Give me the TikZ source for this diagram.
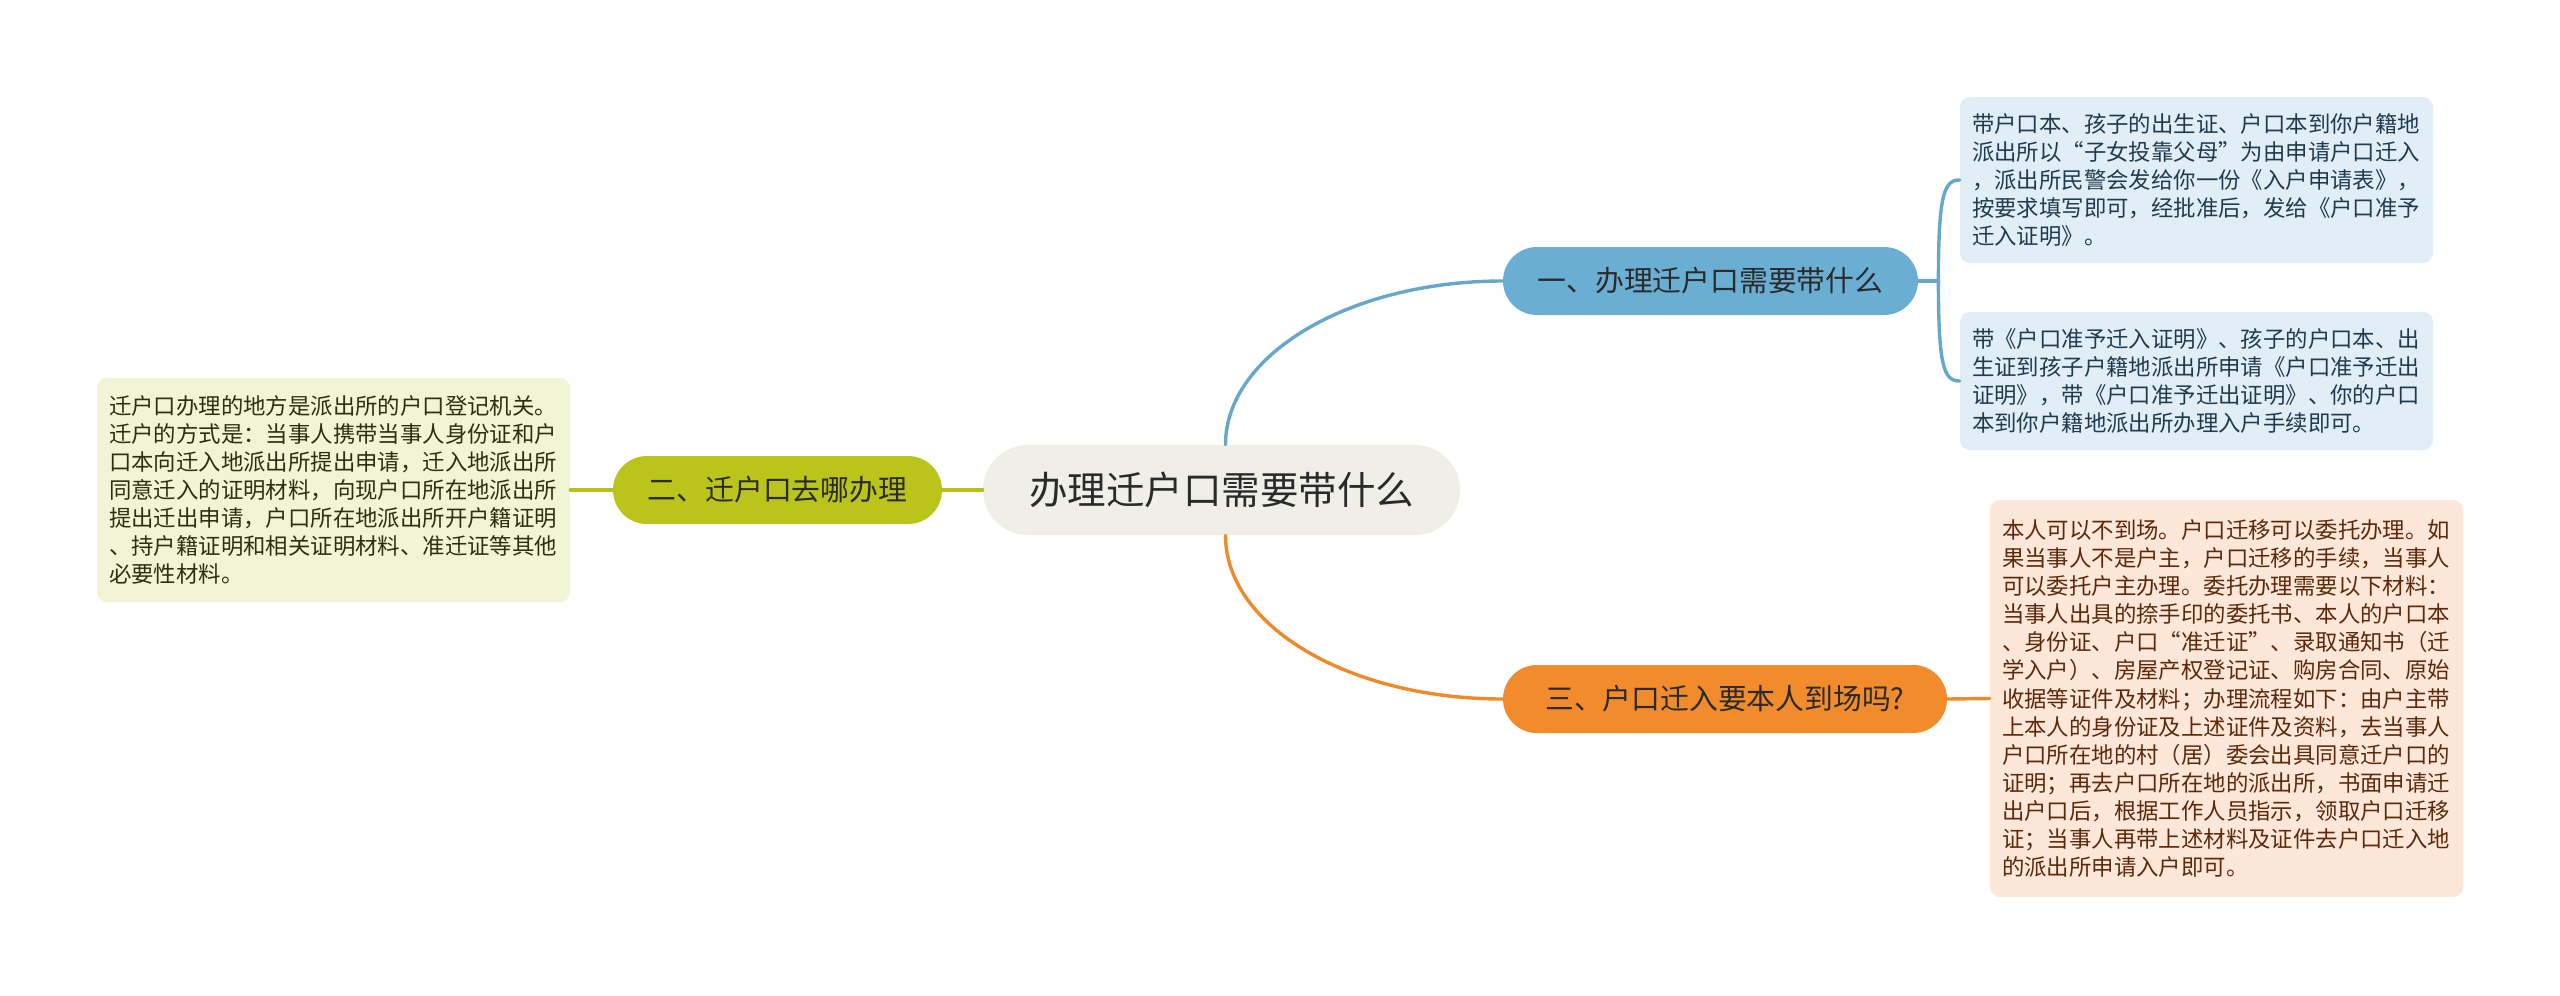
\documentclass[tikz,border=0pt]{standalone}
\usepackage{fontspec}
\setmainfont{Noto Sans CJK SC}
\definecolor{rootfill}{HTML}{EFEFE8}
\definecolor{bluefill}{HTML}{6AAFD3}
\definecolor{blueline}{HTML}{67A8CA}
\definecolor{blueleaf}{HTML}{E2EEF6}
\definecolor{bluetext}{HTML}{1E3B4F}
\definecolor{greenfill}{HTML}{BAC41A}
\definecolor{greenline}{HTML}{B7C11A}
\definecolor{greenleaf}{HTML}{F2F4D6}
\definecolor{greentext}{HTML}{2E2E10}
\definecolor{orangefill}{HTML}{F28B2C}
\definecolor{orangeline}{HTML}{EE8A2A}
\definecolor{orangeleaf}{HTML}{FDE7D9}
\definecolor{orangetext}{HTML}{5B2A0A}
\definecolor{darktext}{HTML}{2A2A2A}
\tikzset{
  rootbox/.style={fill=rootfill, rounded corners=22.5pt, minimum width=238.5pt, minimum height=45pt, inner sep=0pt, text=darktext, font={\fontsize{19.25pt}{23pt}\selectfont}},
  branchbox/.style={rounded corners=17pt, minimum height=34pt, inner sep=0pt, text=darktext, font={\fontsize{14.4pt}{17pt}\selectfont}},
  leafbox/.style={rounded corners=5pt, text width=224.5pt, inner xsep=6pt, inner ysep=0pt, align=left, font={\fontsize{11.2pt}{14.05pt}\selectfont}},
  conn/.style={line width=1.7pt, line cap=round}
}
\begin{document}
\begin{tikzpicture}[x=0.5pt,y=-0.5pt]
\useasboundingbox[fill=white] (0,0) rectangle (2560,996);

\node[rootbox] (root) at (1221.5,490) {办理迁户口需要带什么};

\node[branchbox, fill=bluefill, minimum width=207.5pt] (b1) at (1710.5,281) {一、办理迁户口需要带什么};
\node[branchbox, fill=greenfill, minimum width=164.5pt] (b2) at (777.5,490) {二、迁户口去哪办理};
\node[branchbox, fill=orangefill, minimum width=222pt] (b3) at (1725,699) {三、户口迁入要本人到场吗?};

\node[leafbox, fill=blueleaf, text=bluetext, minimum height=83pt] (l1) at (2196.5,180) {带户口本、孩子的出生证、户口本到你户籍地\\派出所以“子女投靠父母”为由申请户口迁入\\，派出所民警会发给你一份《入户申请表》，\\按要求填写即可，经批准后，发给《户口准予\\迁入证明》。};
\node[leafbox, fill=blueleaf, text=bluetext, minimum height=69pt] (l2) at (2196.5,381) {带《户口准予迁入证明》、孩子的户口本、出\\生证到孩子户籍地派出所申请《户口准予迁出\\证明》，带《户口准予迁出证明》、你的户口\\本到你户籍地派出所办理入户手续即可。};
\node[leafbox, fill=greenleaf, text=greentext, minimum height=112pt] (l3) at (333.5,490) {迁户口办理的地方是派出所的户口登记机关。\\迁户的方式是：当事人携带当事人身份证和户\\口本向迁入地派出所提出申请，迁入地派出所\\同意迁入的证明材料，向现户口所在地派出所\\提出迁出申请，户口所在地派出所开户籍证明\\、持户籍证明和相关证明材料、准迁证等其他\\必要性材料。};
\node[leafbox, fill=orangeleaf, text=orangetext, minimum height=198.5pt] (l4) at (2226.5,698.5) {本人可以不到场。户口迁移可以委托办理。如\\果当事人不是户主，户口迁移的手续，当事人\\可以委托户主办理。委托办理需要以下材料：\\当事人出具的捺手印的委托书、本人的户口本\\、身份证、户口“准迁证”、录取通知书（迁\\学入户）、房屋产权登记证、购房合同、原始\\收据等证件及材料；办理流程如下：由户主带\\上本人的身份证及上述证件及资料，去当事人\\户口所在地的村（居）委会出具同意迁户口的\\证明；再去户口所在地的派出所，书面申请迁\\出户口后，根据工作人员指示，领取户口迁移\\证；当事人再带上述材料及证件去户口迁入地\\的派出所申请入户即可。};

% connectors
\draw[conn, blueline] ([xshift=2pt]root.north) .. controls +(0,-90) and +(-153,0) .. (b1.west);
\draw[conn, blueline] (b1.east) -- ++(20,0) coordinate (j1);
\draw[conn, blueline] (j1) .. controls +(0,-85) and +(-16,0) .. (l1.west);
\draw[conn, blueline] (j1) .. controls +(0,85) and +(-16,0) .. (l2.west);

\draw[conn, greenline] (root.west) -- (b2.east);
\draw[conn, greenline] (b2.west) -- (l3.east);

\draw[conn, orangeline] ([xshift=2pt]root.south) .. controls +(0,91) and +(-153,0) .. (b3.west);
\draw[conn, orangeline] (b3.east) -- (l4.west);
\end{tikzpicture}
\end{document}
